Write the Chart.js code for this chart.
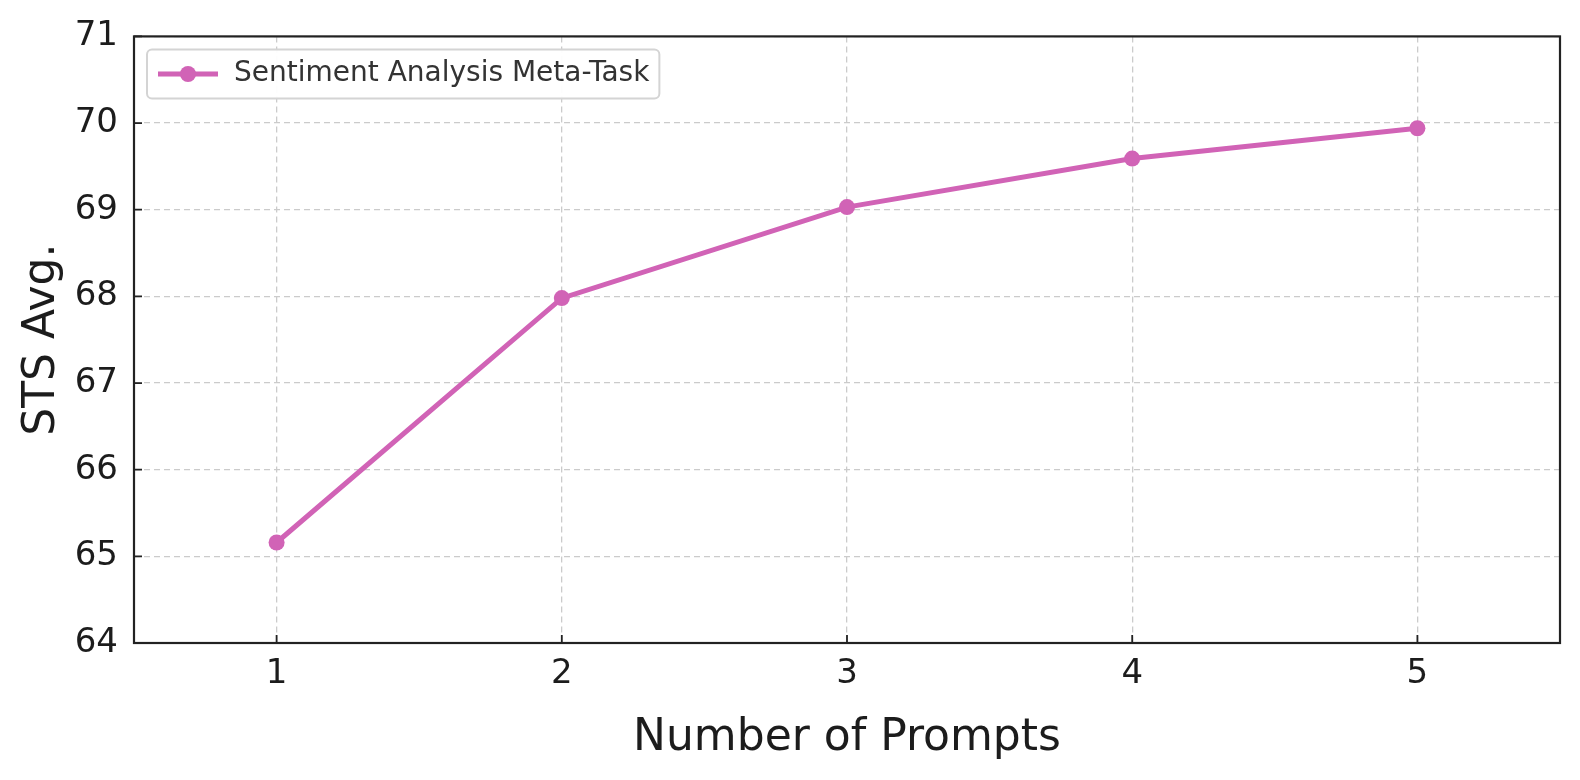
<!DOCTYPE html>
<html>
<head>
<meta charset="utf-8">
<script src="https://cdn.jsdelivr.net/npm/chart.js@4"></script>
<style>
  body { margin: 0; background: #fff; }
</style>
</head>
<body>
<canvas id="chart" width="1580" height="780"></canvas>
<script>
// data
var prompts = [1, 2, 3, 4, 5];
var stsAvg = [65.16, 67.98, 69.03, 69.59, 69.94];
var xTicks = [1, 2, 3, 4, 5];
var yTicks = [64, 65, 66, 67, 68, 69, 70, 71];
var seriesName = "Sentiment Analysis Meta-Task";

var pink = "#d163b6";
var font = "'DejaVu Sans', sans-serif";

// legend sample: line with a dot in the middle
var sample = document.createElement("canvas");
sample.width = 60;
sample.height = 20;
var sctx = sample.getContext("2d");
sctx.strokeStyle = pink;
sctx.lineWidth = 5;
sctx.beginPath();
sctx.moveTo(0, 10);
sctx.lineTo(60, 10);
sctx.stroke();
sctx.fillStyle = pink;
sctx.beginPath();
sctx.arc(30, 10, 8, 0, Math.PI * 2);
sctx.fill();

// nudge the legend into its place inside the axes
var legendShift = { dx: -1, dy: 37 };

var framePlugin = {
    id: "frame",
    afterLayout: function (chart) {
        var lg = chart.legend;
        if (!lg) return;
        lg.left += legendShift.dx; lg.right += legendShift.dx;
        lg.top += legendShift.dy; lg.bottom += legendShift.dy;
        (lg.legendHitBoxes || []).forEach(function (hb) {
            hb.left += legendShift.dx;
            hb.top += legendShift.dy;
        });
    },
    afterDatasetsDraw: function (chart) {
        var ctx = chart.ctx;
        var lg = chart.legend;
        if (lg && lg.legendHitBoxes && lg.legendHitBoxes.length) {
            var hb = lg.legendHitBoxes[0];
            var cy = hb.top + hb.height / 2;
            var x = hb.left - 8, y = cy - 24.5;
            var w = hb.width + 19, h = 49;
            ctx.save();
            ctx.beginPath();
            ctx.roundRect(x, y, w, h, 5);
            ctx.fillStyle = "rgba(255,255,255,0.95)";
            ctx.fill();
            ctx.strokeStyle = "#d4d4d4";
            ctx.lineWidth = 2;
            ctx.stroke();
            ctx.restore();
            lg.draw();
        }
    },
    afterDraw: function (chart) {
        var ctx = chart.ctx;
        var a = chart.chartArea;
        var xs = chart.scales.x, ys = chart.scales.y;
        ctx.save();
        ctx.strokeStyle = "#222";
        ctx.lineWidth = 1.8;
        ctx.beginPath();
        xTicks.forEach(function (v) {
            var px = xs.getPixelForValue(v);
            ctx.moveTo(px, a.bottom);
            ctx.lineTo(px, a.bottom - 8);
        });
        yTicks.forEach(function (v) {
            var py = ys.getPixelForValue(v);
            ctx.moveTo(a.left, py);
            ctx.lineTo(a.left + 8, py);
        });
        ctx.stroke();
        ctx.lineWidth = 2.2;
        ctx.strokeRect(a.left, a.top, a.right - a.left, a.bottom - a.top);
        ctx.restore();
    }
};

var points = prompts.map(function (p, i) { return { x: p, y: stsAvg[i] }; });

new Chart(document.getElementById("chart").getContext("2d"), {
    type: "line",
    data: {
        datasets: [{
            label: seriesName,
            data: points,
            borderColor: pink,
            backgroundColor: pink,
            borderWidth: 5,
            pointRadius: 8,
            pointHoverRadius: 8,
            pointBorderWidth: 0,
            tension: 0
        }]
    },
    options: {
        responsive: false,
        animation: false,
        layout: { padding: { top: 35, right: 20, left: 0, bottom: 0 } },
        plugins: {
            tooltip: { enabled: false },
            legend: {
                position: "chartArea",
                align: "start",
                labels: {
                    usePointStyle: true,
                    pointStyle: sample,
                    pointStyleWidth: 64,
                    padding: 23,
                    color: "#333",
                    font: { family: font, size: 28 }
                }
            }
        },
        scales: {
            x: {
                type: "linear",
                min: 0.5,
                max: 5.5,
                afterBuildTicks: function (scale) {
                    scale.ticks = xTicks.map(function (v) { return { value: v }; });
                },
                afterFit: function (scale) { scale.height = 137; },
                border: { display: false, dash: [6, 4] },
                grid: {
                    drawTicks: false,
                    color: "#cbcbcb",
                    lineWidth: 1.3
                },
                ticks: {
                    padding: 11,
                    color: "#1c1c1c",
                    font: { family: font, size: 34 }
                },
                title: {
                    display: true,
                    text: "Number of Prompts",
                    color: "#1c1c1c",
                    font: { family: font, size: 44 },
                    padding: { top: 0, bottom: 15 }
                }
            },
            y: {
                min: 64,
                max: 71,
                afterBuildTicks: function (scale) {
                    scale.ticks = yTicks.map(function (v) { return { value: v }; });
                },
                afterFit: function (scale) { scale.width = 134; },
                border: { display: false, dash: [6, 4] },
                grid: {
                    drawTicks: false,
                    color: "#cbcbcb",
                    lineWidth: 1.3
                },
                ticks: {
                    padding: 16,
                    color: "#1c1c1c",
                    font: { family: font, size: 34 }
                },
                title: {
                    display: true,
                    text: "STS Avg.",
                    color: "#1c1c1c",
                    font: { family: font, size: 44 },
                    padding: { top: 16, bottom: 0 }
                }
            }
        }
    },
    plugins: [framePlugin]
});
</script>
</body>
</html>
